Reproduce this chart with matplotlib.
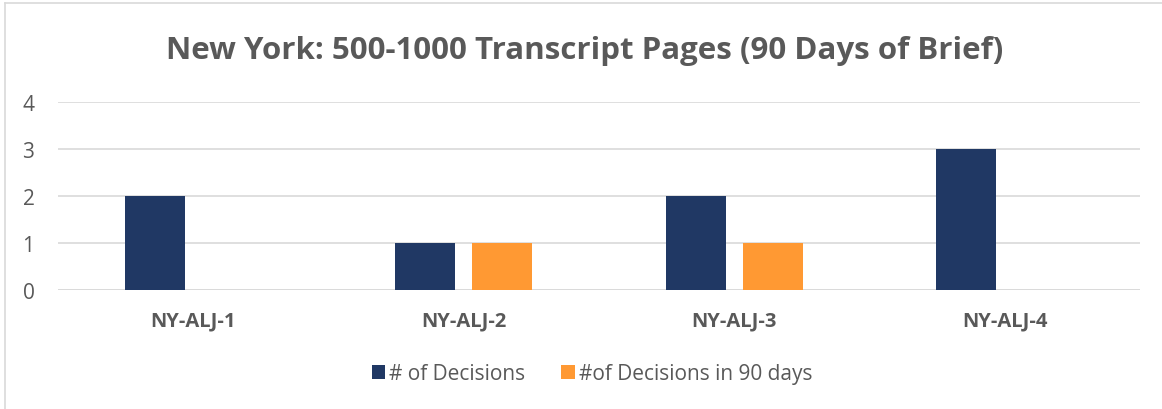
import matplotlib
matplotlib.use("Agg")
import matplotlib.pyplot as plt
import numpy as np

categories = ["NY-ALJ-1", "NY-ALJ-2", "NY-ALJ-3", "NY-ALJ-4"]
decisions = [2, 1, 2, 3]
decisions_90 = [0, 1, 1, 0]
series_names = ["# of Decisions", "#of Decisions in 90 days"]
title = "New York: 500-1000 Transcript Pages (90 Days of Brief)"

plt.rcParams['font.family'] = ['Open Sans', 'DejaVu Sans']
grey = "#595959"

fig = plt.figure(figsize=(11.62, 4.10), dpi=100)
ax = fig.add_axes([58/1162, 1-291/410, (1140-58)/1162, (291-103)/410])

x = np.arange(len(categories))
w = 0.222
off = 0.142
ax.bar(x - off, decisions, w, color="#203864", label=series_names[0], zorder=3)
ax.bar(x + off, decisions_90, w, color="#FF9933", label=series_names[1], zorder=3)

ax.set_xlim(-0.5, len(categories) - 0.5)
ax.set_ylim(0, 4)
ax.set_yticks([0, 1, 2, 3, 4])
ax.yaxis.grid(True, color="#D9D9D9", linewidth=1.2, zorder=0)
ax.set_axisbelow(True)
for s in ax.spines.values():
    s.set_visible(False)
ax.axhline(0, color="#D9D9D9", linewidth=1.2, zorder=1)
ax.tick_params(axis='both', length=0)
ax.tick_params(axis='y', labelsize=15, labelcolor=grey, pad=17)
ax.set_xticks(x)
ax.set_xticklabels(categories, fontsize=14.5, fontweight='bold', color=grey)
ax.tick_params(axis='x', pad=15)

fig.text(585/1162, 1-51/410, title, ha='center', va='center', fontsize=22.5,
         fontweight='bold', color=grey)

leg = fig.legend(loc='center', bbox_to_anchor=(592/1162, 1-375/410), ncol=2,
                 frameon=False, fontsize=15, labelcolor=grey, handlelength=0.65,
                 handleheight=0.65, handletextpad=0.2, columnspacing=1.7)

# chart border (top and left visible)
fig.add_artist(plt.Line2D([5/1162, 1], [1-4/410, 1-4/410], color="#D9D9D9", linewidth=1.2))
fig.add_artist(plt.Line2D([5/1162, 5/1162], [0, 1-4/410], color="#D9D9D9", linewidth=1.2))

fig.savefig("out.png", dpi=100, facecolor="white")
